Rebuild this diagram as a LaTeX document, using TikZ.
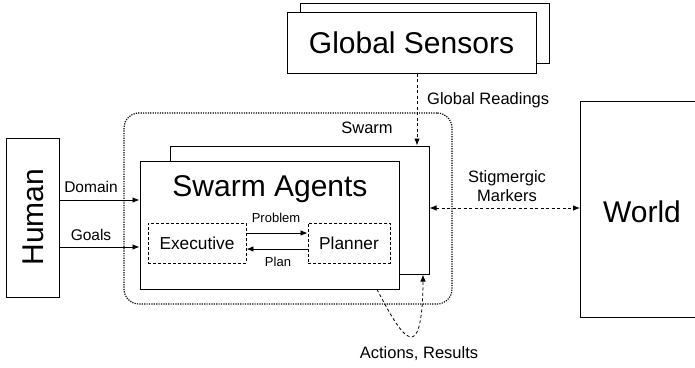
\documentclass[tikz,border=0pt]{standalone}
\usepackage{fontspec}
\setmainfont{Liberation Sans}
\usetikzlibrary{arrows.meta,calc}
\begin{document}
\begin{tikzpicture}[x=1pt,y=-1pt,
  box/.style={draw, line width=1pt, fill=white, inner sep=0pt},
  subbox/.style={draw, dash pattern=on 3pt off 2pt, line width=0.9pt, inner sep=0pt},
  tip/.tip={Latex[length=7pt,width=5.5pt]},
  arr/.style={line width=0.8pt, -tip},
  dsh/.style={dash pattern=on 3pt off 2.5pt},
  big/.style={inner sep=0pt, font=\fontsize{30}{36}\selectfont},
  mid/.style={inner sep=0pt, font=\fontsize{16.5}{19.5}\selectfont},
  sml/.style={inner sep=0pt, font=\fontsize{15.5}{18}\selectfont},
  tiny/.style={inner sep=0pt, font=\fontsize{13}{15}\selectfont},
  subtxt/.style={inner sep=0pt, font=\fontsize{17.3}{20}\selectfont}]
\useasboundingbox (0,0) rectangle (695,367);

% Global sensors
\node[box, minimum width=249pt, minimum height=60pt] (gsb) at (424.5,33) {};
\node[box, minimum width=249pt, minimum height=61pt] (gsf) at (411.5,42.5) {};
\node[big] (gst) at (gsf) {Global Sensors};

% Swarm dotted region
\node[draw, line width=1.2pt, dash pattern=on 1.2pt off 1.2pt, rounded corners=15pt,
      minimum width=328pt, minimum height=191pt, inner sep=0pt] (swarm) at (288,208.5) {};
\node[mid] (swarmt) at (367,128) {Swarm};

% Swarm agents boxes
\node[box, minimum width=259pt, minimum height=128pt] (sb) at (299.5,210) {};
\node[box, minimum width=259pt, minimum height=128pt] (ag) at (269.5,225) {};
\node[big] (agt) at (270,189) {Swarm Agents};

% Executive / Planner
\node[subbox, minimum width=98pt, minimum height=40pt] (ex) at (197,243) {};
\node[subtxt] (ext) at (ex) {Executive};
\node[subbox, minimum width=82pt, minimum height=40pt] (pl) at (349,243) {};
\node[subtxt] (plt) at (pl) {Planner};
\coordinate (py) at (0,233);
\coordinate (ply) at (0,249);
\draw[arr] (ex.east |- py) -- (pl.west |- py);
\draw[arr] (pl.west |- ply) -- (ex.east |- ply);
\node[tiny] (probt) at (276,218) {Problem};
\node[tiny] (plant) at (278,262) {Plan};

% Human
\node[box, minimum width=53pt, minimum height=159pt] (human) at (32.5,217.5) {};
\node[big, rotate=90] (humant) at (33,217) {Human};
\coordinate (dy) at (0,200);
\coordinate (gy) at (0,247);
\draw[arr] (human.east |- dy) -- (ag.west |- dy);
\draw[arr] (human.east |- gy) -- (ag.west |- gy);
\node[sml] (domt) at (91,187) {Domain};
\node[sml] (goalt) at (91,235) {Goals};

% World
\node[box, minimum width=130pt, minimum height=216pt, anchor=north west] (world) at (580,101) {};
\node[big] (worldt) at (642,212) {World};

% Global readings
\coordinate (gx) at (417,0);
\draw[arr, dsh] (gsf.south -| gx) -- (sb.north -| gx);
\node[mid, anchor=west] (grt) at (427,100) {Global Readings};

% Stigmergic markers
\coordinate (sy) at (0,208);
\draw[line width=0.8pt, tip-tip, dsh] (sb.east |- sy) -- (world.west |- sy);
\node[mid, align=center] (stt) at (507,186) {Stigmergic\\Markers};

% Actions, results
\coordinate (ax) at (377,0);
\coordinate (rx) at (423,0);
\coordinate (bot) at (412,337);
\draw[arr, dsh] (ag.south -| ax) .. controls (388,310) and (402,338) .. (bot)
   .. controls (420,336) and (423,310) .. (sb.south -| rx);
\node[mid] (art) at (419,354) {Actions, Results};
\end{tikzpicture}
\end{document}
